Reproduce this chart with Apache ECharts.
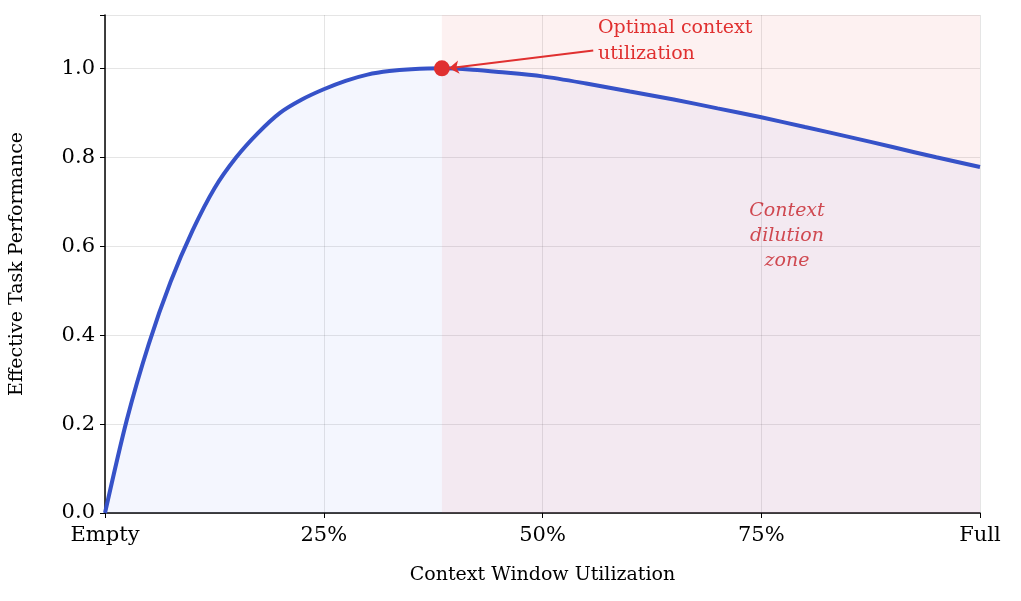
<!DOCTYPE html>
<html><head><meta charset="utf-8">
<script src="https://cdn.jsdelivr.net/npm/echarts@6/dist/echarts.min.js"></script>
<style>body{margin:0}#c{width:1021px;height:601px}</style></head>
<body><div id="c"></div>
<script>
// curve samples (x = fraction of window used)
const xs = [0, 0.025, 0.05, 0.075, 0.1, 0.125, 0.15, 0.175, 0.2, 0.225, 0.25, 0.275, 0.3, 0.325, 0.35, 0.385, 0.42, 0.45, 0.5, 0.55, 0.6, 0.65, 0.7, 0.75, 0.8, 0.85, 0.9, 0.95, 1.0];
const ys = [0, 0.21, 0.38, 0.52, 0.635, 0.73, 0.80, 0.855, 0.90, 0.93, 0.953, 0.972, 0.986, 0.994, 0.998, 1.0, 0.997, 0.992, 0.982, 0.966, 0.948, 0.93, 0.91, 0.89, 0.868, 0.846, 0.823, 0.80, 0.778];
const peak = [0.385, 1.0];
const tickLabels = {0: 'Empty', 0.25: '25%', 0.5: '50%', 0.75: '75%', 1: 'Full'};
const font = 'DejaVu Serif';

let myChart = echarts.init(document.getElementById('c'));
let option = {
  textStyle: {fontFamily: font},
  grid: {left: 104, right: 41, top: 15, bottom: 88},
  xAxis: {
    type: 'value', min: 0, max: 1, interval: 0.25,
    name: 'Context Window Utilization', nameLocation: 'middle', nameGap: 53,
    nameTextStyle: {fontFamily: font, fontSize: 19, color: '#000'},
    axisLine: {lineStyle: {color: '#000', width: 1.5}},
    axisTick: {show: true, length: 5, lineStyle: {color: '#000'}},
    axisLabel: {fontFamily: font, fontSize: 21, color: '#000', margin: 12,
      formatter: v => tickLabels[v] ?? ''},
    splitLine: {lineStyle: {color: 'rgba(0,0,0,0.1)'}}
  },
  yAxis: {
    type: 'value', min: 0, max: 1.12, interval: 0.2,
    name: 'Effective Task Performance', nameLocation: 'middle', nameGap: 78,
    nameTextStyle: {fontFamily: font, fontSize: 19, color: '#000'},
    axisLine: {show: true, lineStyle: {color: '#000', width: 1.5}},
    axisTick: {show: true, length: 5, lineStyle: {color: '#000'}},
    axisLabel: {fontFamily: font, fontSize: 21, color: '#000', margin: 10,
      formatter: v => v > 1.05 ? '' : v.toFixed(1)},
    splitLine: {lineStyle: {color: 'rgba(0,0,0,0.1)'}}
  },
  series: [{
    type: 'line', smooth: 0.3, symbol: 'none',
    data: xs.map((x, i) => [x, ys[i]]),
    lineStyle: {color: '#3652c8', width: 4},
    areaStyle: {color: 'rgba(80,110,240,0.09)'},
    markArea: {silent: true, itemStyle: {color: 'rgba(220,60,50,0.07)'},
      data: [[{coord: [peak[0], 0]}, {coord: [1, 1.12]}]]},
    markLine: {silent: true, symbol: ['none', 'arrow'], symbolSize: 10,
      lineStyle: {color: '#e03030', width: 2, type: 'solid'}, label: {show: false},
      data: [[{coord: [0.558, 1.04]}, {coord: [0.393, 1.0]}]]}
  }, {
    type: 'scatter', data: [peak], symbolSize: 16,
    itemStyle: {color: '#e03030', opacity: 1}, z: 5
  }],
  graphic: [
    {type: 'text', x: 598, y: 15, style: {text: 'Optimal context\nutilization',
      font: '19px "DejaVu Serif"', fill: '#e03030', lineHeight: 26}},
    {type: 'text', x: 787, y: 199, style: {text: 'Context\ndilution\nzone', align: 'center',
      font: 'italic 19px "DejaVu Serif"', fill: '#d84848', lineHeight: 25}}
  ]
};
option && myChart.setOption(option);
</script></body></html>
